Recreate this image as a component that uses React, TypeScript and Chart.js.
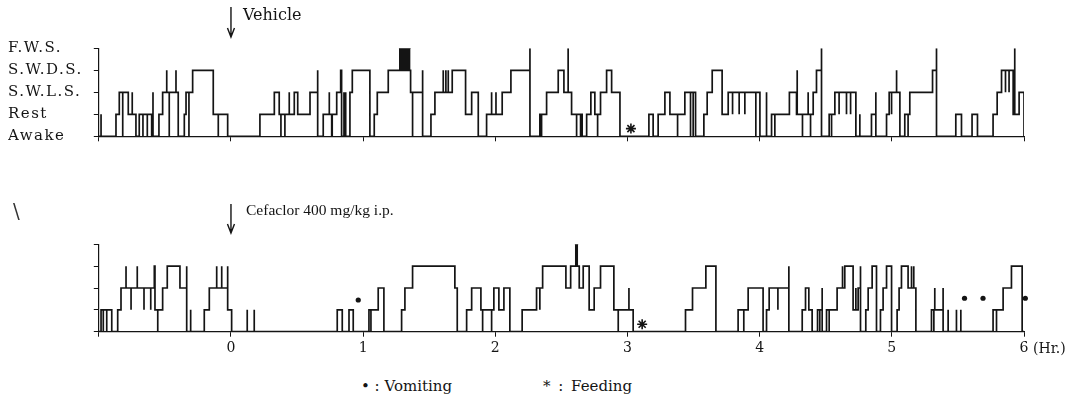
import React, { useEffect, useRef } from 'react';
import { Chart, registerables } from 'chart.js';

Chart.register(...registerables);

// ---------- data (hours after dosing, sleep stage 0..4) ----------
const stageLabels = ['Awake', 'Rest', 'S.W.L.S.', 'S.W.D.S.', 'F.W.S.'];
const hourRange = [-1, 6];

// Vehicle: [time (Hr.), stage] — stage changes at the given time
const vehicleHypnogram: [number, number][] = [
  [-1.0, 0], [-0.983, 1], [-0.983, 0],
  [-0.87, 1], [-0.845, 2], [-0.819, 0], [-0.819, 2], [-0.777, 1], [-0.747, 2], [-0.747, 1], [-0.719, 0],
  [-0.694, 1], [-0.666, 0], [-0.666, 1], [-0.633, 0], [-0.633, 1], [-0.6, 0], [-0.59, 2], [-0.59, 0],
  [-0.545, 1], [-0.517, 2], [-0.486, 3], [-0.486, 2], [-0.467, 0], [-0.467, 2], [-0.416, 3], [-0.416, 2], [-0.399, 0],
  [-0.353, 1], [-0.34, 2], [-0.318, 0], [-0.318, 2], [-0.29, 3], [-0.134, 1], [-0.096, 0], [-0.096, 1], [-0.025, 0],
  [0.219, 1], [0.328, 2], [0.365, 1], [0.378, 0], [0.378, 1], [0.408, 0], [0.408, 1], [0.441, 2], [0.441, 1],
  [0.479, 2], [0.505, 1], [0.598, 2], [0.656, 3], [0.656, 0],
  [0.698, 1], [0.744, 2], [0.744, 1], [0.762, 0], [0.766, 1], [0.8, 2], [0.83, 3], [0.837, 0],
  [0.855, 2], [0.855, 0], [0.868, 2], [0.868, 0],
  [0.9, 2], [0.918, 3], [1.051, 0],
  [1.084, 1], [1.107, 2], [1.19, 3], [1.359, 2], [1.374, 0], [1.374, 2], [1.45, 3], [1.45, 0],
  [1.513, 1], [1.543, 2], [1.606, 3], [1.606, 2], [1.626, 3], [1.626, 2], [1.644, 3], [1.644, 2], [1.674, 3],
  [1.775, 1], [1.821, 2], [1.871, 0],
  [1.934, 1], [1.972, 2], [1.972, 1], [2.005, 2], [2.005, 1], [2.052, 2], [2.118, 3], [2.262, 4], [2.262, 0],
  [2.337, 1], [2.35, 0], [2.35, 1], [2.388, 2], [2.476, 3], [2.519, 2], [2.551, 4], [2.551, 2], [2.577, 1],
  [2.615, 0], [2.615, 1], [2.645, 0], [2.645, 1], [2.657, 0],
  [2.691, 1], [2.723, 2], [2.753, 1], [2.774, 0], [2.774, 1], [2.796, 2], [2.842, 3], [2.88, 2], [2.943, 0],
  [3.162, 1], [3.194, 0], [3.232, 1], [3.283, 2], [3.321, 1], [3.379, 0], [3.379, 1], [3.434, 2],
  [3.477, 0], [3.477, 2], [3.497, 0], [3.497, 2], [3.515, 0],
  [3.578, 1], [3.603, 2], [3.641, 3], [3.716, 1], [3.762, 2], [3.795, 1], [3.795, 2], [3.845, 1], [3.845, 2],
  [3.888, 1], [3.888, 2], [3.971, 0], [3.971, 2], [4.002, 0], [4.052, 2], [4.052, 0],
  [4.09, 1], [4.115, 0], [4.115, 1], [4.225, 2],
  [4.279, 1], [4.284, 3], [4.284, 1], [4.324, 0], [4.324, 1], [4.367, 2], [4.367, 1], [4.385, 0], [4.385, 1],
  [4.405, 2], [4.43, 3], [4.468, 4], [4.468, 0],
  [4.526, 1], [4.544, 0], [4.544, 1], [4.569, 2], [4.601, 1], [4.601, 2], [4.657, 1], [4.657, 2], [4.688, 1], [4.688, 2],
  [4.728, 0], [4.758, 1], [4.758, 0],
  [4.846, 1], [4.879, 2], [4.879, 0],
  [4.96, 1], [4.98, 2], [4.998, 1], [4.998, 2], [5.036, 3], [5.036, 2], [5.061, 0],
  [5.098, 1], [5.123, 0], [5.123, 1], [5.136, 2], [5.308, 3], [5.338, 4], [5.338, 0],
  [5.484, 1], [5.527, 0], [5.607, 1], [5.648, 0],
  [5.766, 1], [5.797, 2], [5.83, 3], [5.86, 2], [5.86, 3], [5.887, 2], [5.887, 3], [5.918, 1], [5.93, 4], [5.93, 1],
  [5.963, 2], [6.0, 0],
];
const vehicleFwsBlock: [number, number][] = [[1.271, 4], [1.359, 4]];
const vehicleFeeding: [number, number][] = [[3.026, 0.35]];

// Cefaclor 400 mg/kg i.p.
const cefaclorHypnogram: [number, number][] = [
  [-1.0, 0],
  [-0.983, 1], [-0.966, 0], [-0.966, 1], [-0.94, 0], [-0.94, 1], [-0.902, 0],
  [-0.857, 1], [-0.832, 2], [-0.794, 3], [-0.794, 2], [-0.756, 1], [-0.756, 2], [-0.709, 3], [-0.709, 2],
  [-0.658, 1], [-0.658, 2], [-0.607, 1], [-0.607, 2], [-0.58, 3], [-0.575, 1], [-0.554, 0], [-0.554, 1],
  [-0.517, 2], [-0.482, 3], [-0.386, 2], [-0.335, 3], [-0.335, 0], [-0.305, 1], [-0.305, 0],
  [-0.202, 1], [-0.164, 2], [-0.108, 3], [-0.108, 2], [-0.07, 3], [-0.07, 2], [-0.025, 3], [-0.025, 1], [0.005, 0],
  [0.123, 1], [0.123, 0], [0.176, 1], [0.176, 0],
  [0.804, 1], [0.842, 0], [0.893, 1], [0.925, 0],
  [1.044, 1], [1.059, 0], [1.059, 1], [1.114, 2], [1.157, 0],
  [1.291, 1], [1.316, 2], [1.374, 3], [1.694, 2], [1.712, 0],
  [1.783, 1], [1.821, 2], [1.891, 1], [1.904, 0], [1.904, 1], [1.972, 0], [1.972, 1], [1.989, 2], [2.027, 1],
  [2.065, 2], [2.11, 0],
  [2.203, 1], [2.312, 2], [2.337, 1], [2.337, 2], [2.358, 3], [2.534, 2], [2.57, 3], [2.635, 2], [2.665, 3],
  [2.71, 1], [2.748, 2], [2.796, 3], [2.897, 1], [2.93, 0], [2.93, 1], [3.011, 2], [3.011, 1], [3.043, 0],
  [3.439, 1], [3.492, 2], [3.593, 3], [3.669, 0],
  [3.837, 1], [3.88, 0], [3.88, 1], [3.913, 2], [4.026, 0], [4.052, 1], [4.072, 2], [4.138, 1], [4.138, 2],
  [4.221, 3], [4.221, 0],
  [4.322, 1], [4.347, 2], [4.372, 1], [4.397, 0],
  [4.438, 1], [4.455, 0], [4.455, 1], [4.473, 2], [4.473, 0],
  [4.506, 1], [4.526, 0], [4.526, 1], [4.586, 2], [4.627, 3], [4.627, 2], [4.644, 3], [4.707, 1], [4.728, 2],
  [4.728, 1], [4.745, 2], [4.763, 3], [4.763, 0],
  [4.803, 1], [4.821, 2], [4.851, 3], [4.884, 0],
  [4.914, 1], [4.934, 2], [4.96, 3], [4.998, 0],
  [5.04, 1], [5.055, 2], [5.073, 3], [5.123, 2], [5.149, 3], [5.149, 2], [5.166, 3], [5.166, 2], [5.182, 0],
  [5.3, 1], [5.318, 0], [5.318, 1], [5.325, 2], [5.325, 1], [5.388, 2], [5.388, 0],
  [5.426, 1], [5.426, 0], [5.489, 1], [5.489, 0], [5.522, 1], [5.522, 0],
  [5.766, 1], [5.792, 0], [5.792, 1], [5.842, 2], [5.905, 3], [5.986, 0], [6.0, 0],
];
const cefaclorFwsBlock: [number, number][] = [[2.602, 4], [2.627, 4]];
const cefaclorFeeding: [number, number][] = [[3.111, 0.34]];
const cefaclorVomiting: [number, number][] = [[0.963, 1.45], [5.55, 1.53], [5.69, 1.53], [6.01, 1.53]];

// ---------- drawing ----------
const INK = '#141414';
const toXY = (pairs: [number, number][]) => pairs.map(([x, y]) => ({ x, y }));

type PanelProps = {
  top: number;
  height: number;
  padTop: number;
  axisHeight: number;
  hypnogram: [number, number][];
  block: [number, number][];
  feeding: [number, number][];
  vomiting: [number, number][];
  showStageLabels: boolean;
  showHourLabels: boolean;
  arrowFrom: number;
  arrowTo: number;
};

function Panel(p: PanelProps) {
  const ref = useRef<HTMLCanvasElement>(null);

  useEffect(() => {
    const canvas = ref.current;
    if (!canvas) return;

    const doseArrow = {
      id: 'doseArrow',
      beforeDraw(chart: any) {
        if (p.showStageLabels) chart.ctx.letterSpacing = '1.5px';
      },
      beforeDatasetsDraw(chart: any) {
        chart.ctx.letterSpacing = '0px';
      },
      afterDraw(chart: any) {
        const ctx = chart.ctx;
        const x = chart.scales.x.getPixelForValue(0);
        ctx.save();
        ctx.strokeStyle = INK;
        ctx.lineWidth = 1.4;
        ctx.beginPath();
        ctx.moveTo(x, p.arrowFrom);
        ctx.lineTo(x, p.arrowTo);
        ctx.moveTo(x - 3.5, p.arrowTo - 9);
        ctx.lineTo(x, p.arrowTo);
        ctx.lineTo(x + 3.5, p.arrowTo - 9);
        ctx.stroke();
        ctx.restore();
      },
    };

    const datasets: any[] = [
      {
        data: toXY(p.hypnogram),
        stepped: true,
        borderColor: INK,
        borderWidth: 1.7,
        borderJoinStyle: 'miter',
        pointRadius: 0,
        fill: false,
        order: 2,
      },
      {
        data: toXY(p.block),
        borderColor: INK,
        backgroundColor: INK,
        borderWidth: 1,
        pointRadius: 0,
        fill: { value: 3 },
        order: 1,
      },
      {
        data: toXY(p.feeding),
        showLine: false,
        pointStyle: 'star',
        pointRadius: 5,
        borderColor: INK,
        backgroundColor: INK,
        pointBorderWidth: 1.6,
        clip: false,
        order: 0,
      },
      {
        data: toXY(p.vomiting),
        showLine: false,
        pointStyle: 'circle',
        pointRadius: 2.6,
        borderColor: INK,
        backgroundColor: INK,
        pointBorderWidth: 0,
        clip: false,
        order: 0,
      },
    ];

    const chart = new Chart(canvas, {
      type: 'line',
      data: { datasets },
      options: {
        responsive: false,
        animation: false,
        devicePixelRatio: 1,
        events: [],
        layout: { padding: { left: 8, right: 57, top: p.padTop, bottom: 0 } },
        plugins: { legend: { display: false }, tooltip: { enabled: false } },
        scales: {
          x: {
            type: 'linear',
            min: hourRange[0],
            max: hourRange[1],
            afterFit: (s: any) => {
              s.height = p.axisHeight;
            },
            grid: { drawOnChartArea: false, drawTicks: true, tickLength: 5, color: INK, lineWidth: 1 },
            border: { display: true, color: INK, width: 1.2 },
            ticks: {
              display: p.showHourLabels,
              stepSize: 1,
              autoSkip: false,
              maxRotation: 0,
              padding: 3,
              color: INK,
              font: { family: 'DejaVu Serif', size: 14 },
              callback: (v: any) => (Number(v) < 0 ? '' : String(v)),
            },
          },
          y: {
            type: 'linear',
            min: 0,
            max: 4,
            afterFit: (s: any) => {
              s.width = 90.8;
            },
            grid: { drawOnChartArea: false, drawTicks: true, tickLength: 5, color: INK, lineWidth: 1 },
            border: { display: true, color: INK, width: 1.2 },
            ticks: {
              display: p.showStageLabels,
              stepSize: 1,
              crossAlign: 'far',
              color: INK,
              font: { family: 'DejaVu Serif', size: 15 },
              callback: (v: any) => stageLabels[Number(v)] ?? '',
            },
          },
        },
      } as any,
      plugins: [doseArrow],
    });

    return () => chart.destroy();
  }, []);

  return (
    <canvas
      ref={ref}
      width={1081}
      height={p.height}
      style={{ position: 'absolute', left: 0, top: p.top, width: 1081, height: p.height }}
    />
  );
}

const txt = (extra: React.CSSProperties): React.CSSProperties => ({
  position: 'absolute',
  whiteSpace: 'pre',
  color: INK,
  fontFamily: '"DejaVu Serif", serif',
  fontSize: 15,
  lineHeight: '18px',
  ...extra,
});

export default function App() {
  return (
    <div
      style={{
        position: 'fixed',
        left: 0,
        top: 0,
        width: 1081,
        height: 399,
        background: '#fff',
        overflow: 'hidden',
      }}
    >
      <Panel
        top={0}
        height={160}
        padTop={48.3}
        axisHeight={23.7}
        hypnogram={vehicleHypnogram}
        block={vehicleFwsBlock}
        feeding={vehicleFeeding}
        vomiting={[]}
        showStageLabels={true}
        showHourLabels={false}
        arrowFrom={7}
        arrowTo={37}
      />
      <Panel
        top={200}
        height={170}
        padTop={44.3}
        axisHeight={38.3}
        hypnogram={cefaclorHypnogram}
        block={cefaclorFwsBlock}
        feeding={cefaclorFeeding}
        vomiting={cefaclorVomiting}
        showStageLabels={false}
        showHourLabels={true}
        arrowFrom={4}
        arrowTo={33}
      />
      <div style={txt({ left: 243, top: 5, fontSize: 16, lineHeight: '20px' })}>Vehicle</div>
      <div style={txt({ left: 246, top: 200, fontSize: 15.5, lineHeight: '20px', fontFamily: '"Liberation Serif", serif' })}>Cefaclor 400 mg/kg i.p.</div>
      <div style={txt({ left: 13, top: 199, fontSize: 20, lineHeight: '24px', color: '#333' })}>\</div>
      <div style={txt({ left: 1033, top: 340, fontSize: 14, lineHeight: '16px' })}>(Hr.)</div>
      <div style={txt({ left: 361, top: 377 })}>• : Vomiting</div>
      <div style={txt({ left: 543, top: 377, wordSpacing: '3px' })}>* : Feeding</div>
    </div>
  );
}
